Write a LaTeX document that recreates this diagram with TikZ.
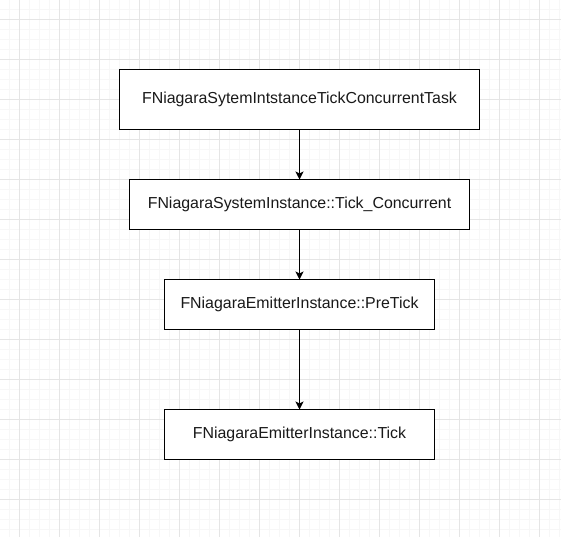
\documentclass[tikz,border=0pt]{standalone}
\usepackage{fontspec}
\setmainfont{Liberation Sans}
\usetikzlibrary{positioning}
\usetikzlibrary{arrows.meta}
\tikzset{
    gridminor/.style = {draw=black!3,line width=1pt},
    gridmajor/.style = {draw=black!10,line width=1pt},
    callbox/.style = {rectangle, draw=black, line width=1pt, fill=white, outer sep=0pt,
                      minimum height=50pt, text=black!90, font=\fontsize{15.9}{19}\selectfont},
    callarrow/.style = {-{Stealth[length=8pt,width=8pt,inset=2pt]},line width=1pt,draw=black}
}

\begin{document}
\begin{tikzpicture}[x=1pt,y=-1pt]
  \useasboundingbox (0,0) rectangle (561,537);
  % background grid
  \fill[white] (0,0) rectangle (561,537);
  \foreach \g in {9.5,19.5,...,559.5} {
    \draw[gridminor] (\g,0) -- (\g,537);
  }
  \foreach \g in {9.5,19.5,...,536.5} {
    \draw[gridminor] (0,\g) -- (561,\g);
  }
  \foreach \g in {19.5,59.5,...,559.5} {
    \draw[gridmajor] (\g,0) -- (\g,537);
  }
  \foreach \g in {19.5,59.5,...,536.5} {
    \draw[gridmajor] (0,\g) -- (561,\g);
  }

  % call chain
  \node[callbox, minimum width=360pt, minimum height=60pt] (task) at (299.5,99.5)
    {FNiagaraSytemIntstanceTickConcurrentTask};
  \node[callbox, minimum width=340pt, below=50pt of task] (systick)
    {FNiagaraSystemInstance::Tick\_Concurrent};
  \node[callbox, minimum width=270pt, below=50pt of systick] (pretick)
    {FNiagaraEmitterInstance::PreTick};
  \node[callbox, minimum width=270pt, below=80pt of pretick] (emittick)
    {FNiagaraEmitterInstance::Tick};

  \draw[callarrow] (task) -- (systick);
  \draw[callarrow] (systick) -- (pretick);
  \draw[callarrow] (pretick) -- (emittick);
\end{tikzpicture}
\end{document}
